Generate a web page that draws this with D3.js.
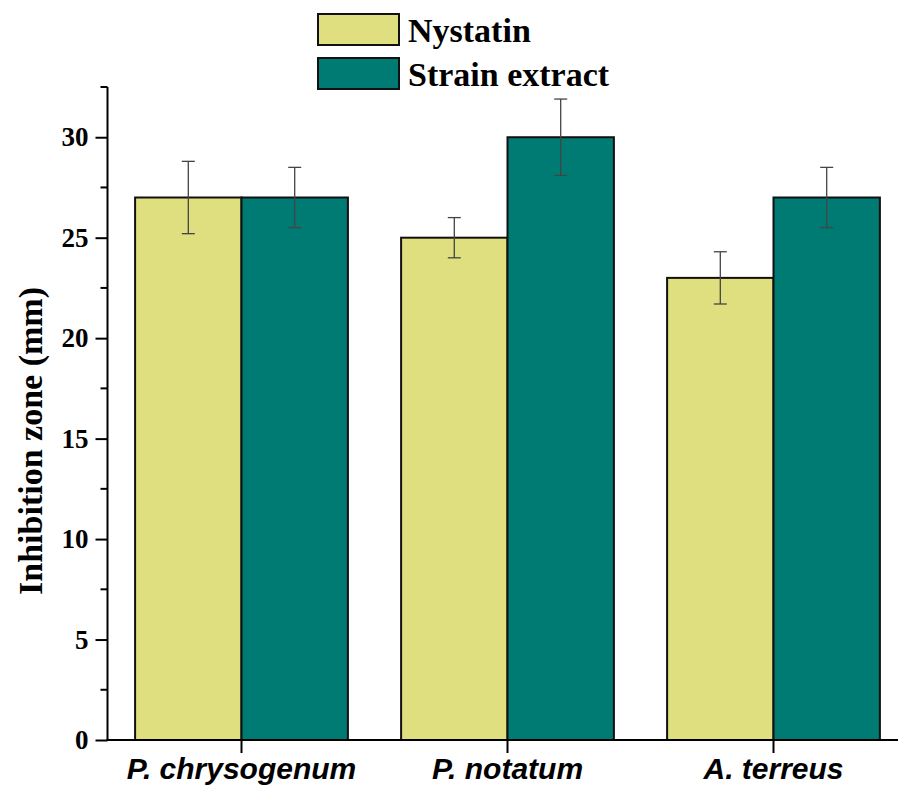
<!DOCTYPE html>
<html>
<head>
<meta charset="utf-8">
<script src="https://cdn.jsdelivr.net/npm/d3@7"></script>
<style>
  html, body { margin: 0; padding: 0; background: #fff; }
  svg { display: block; }
</style>
</head>
<body>
<svg id="chart" width="898" height="785"></svg>
<script>
const categories = ["P. chrysogenum", "P. notatum", "A. terreus"];
const seriesNames = ["Nystatin", "Strain extract"];
const nystatin = [27, 25, 23];
const nystatinErr = [1.8, 1.0, 1.3];
const strainExtract = [27, 30, 27];
const strainErr = [1.5, 1.9, 1.5];
const yTicks = [0, 5, 10, 15, 20, 25, 30];
const yMinorTicks = [2.5, 7.5, 12.5, 17.5, 22.5, 27.5, 32.5];
const colors = ["#DFDF80", "#007B74"];

const svg = d3.select("#chart");

const y = d3.scaleLinear().domain([0, 32.5]).range([740, 87]);
const x0 = d3.scaleBand().domain(categories).range([108.5, 906.5]).padding(0);
const x1 = d3.scaleBand().domain(seriesNames).range([0, x0.bandwidth() * 0.8]).padding(0);

const values = [nystatin, strainExtract];
const errs = [nystatinErr, strainErr];

const data = [];
categories.forEach((c, i) => {
  seriesNames.forEach((s, j) => {
    data.push({ cat: c, series: s, value: values[j][i], err: errs[j][i], color: colors[j] });
  });
});

const groupOffset = x0.bandwidth() * 0.1;

// bars
svg.append("g").selectAll("rect")
  .data(data)
  .join("rect")
  .attr("x", d => x0(d.cat) + groupOffset + x1(d.series))
  .attr("y", d => y(d.value))
  .attr("width", x1.bandwidth())
  .attr("height", d => y(0) - y(d.value))
  .attr("fill", d => d.color)
  .attr("stroke", "#111")
  .attr("stroke-width", 2);

// error bars
const eb = svg.append("g").attr("stroke", "#444").attr("stroke-width", 1.3);
data.forEach(d => {
  const cx = x0(d.cat) + groupOffset + x1(d.series) + x1.bandwidth() / 2;
  eb.append("line").attr("x1", cx).attr("x2", cx).attr("y1", y(d.value + d.err)).attr("y2", y(d.value - d.err));
  eb.append("line").attr("x1", cx - 6.5).attr("x2", cx + 6.5).attr("y1", y(d.value + d.err)).attr("y2", y(d.value + d.err));
  eb.append("line").attr("x1", cx - 6.5).attr("x2", cx + 6.5).attr("y1", y(d.value - d.err)).attr("y2", y(d.value - d.err));
});

// y axis
const yAxisG = svg.append("g").attr("transform", "translate(107.5,0)");
yAxisG.call(d3.axisLeft(y).tickValues(yTicks).tickSize(12).tickPadding(7).tickFormat(d3.format("d")));
yAxisG.select(".domain").remove();
yAxisG.append("line").attr("x1", 0).attr("x2", 0).attr("y1", y(32.5)).attr("y2", y(0) + 1)
  .attr("stroke", "#000").attr("stroke-width", 2);
yAxisG.selectAll(".tick line").attr("stroke", "#000").attr("stroke-width", 2);
yAxisG.selectAll(".tick text")
  .attr("font-family", "'Liberation Serif', 'Times New Roman', serif")
  .attr("font-weight", "bold").attr("font-size", 27).attr("fill", "#000");
yAxisG.selectAll(".minor").data(yMinorTicks).join("line").attr("class", "minor")
  .attr("x1", -7).attr("x2", 0).attr("y1", d => y(d)).attr("y2", d => y(d))
  .attr("stroke", "#000").attr("stroke-width", 2);

// x axis
const xAxisG = svg.append("g").attr("transform", "translate(0,740)");
xAxisG.append("line").attr("x1", 106.5).attr("x2", 898).attr("y1", 0).attr("y2", 0)
  .attr("stroke", "#000").attr("stroke-width", 2);
const xAxis = d3.axisBottom(x0).tickSize(13).tickPadding(2);
const xg = xAxisG.append("g").call(xAxis);
xg.select(".domain").remove();
xg.selectAll(".tick").attr("transform", d => `translate(${x0(d) + groupOffset + x1.bandwidth()},0)`);
xg.selectAll(".tick line").attr("stroke", "#000").attr("stroke-width", 2);
xg.selectAll(".tick text")
  .attr("y", 39).attr("dy", 0)
  .attr("font-family", "'Liberation Sans', Arial, sans-serif")
  .attr("font-weight", "bold").attr("font-style", "italic")
  .attr("font-size", 30).attr("fill", "#000");

// y label
svg.append("text")
  .attr("transform", "translate(42,441) rotate(-90)")
  .attr("text-anchor", "middle")
  .attr("font-family", "'Liberation Serif', 'Times New Roman', serif")
  .attr("font-weight", "bold").attr("font-size", 34)
  .attr("fill", "#000")
  .text("Inhibition zone (mm)");

// legend
const legend = svg.append("g");
seriesNames.forEach((s, i) => {
  const top = 14 + i * 44;
  legend.append("rect").attr("x", 318).attr("y", top).attr("width", 81).attr("height", 31)
    .attr("fill", colors[i]).attr("stroke", "#111").attr("stroke-width", 2);
  legend.append("text").attr("x", 408).attr("y", top + 28)
    .attr("font-family", "'Liberation Serif', 'Times New Roman', serif")
    .attr("font-weight", "bold").attr("font-size", 34).attr("fill", "#000")
    .text(s);
});
</script>
</body>
</html>
